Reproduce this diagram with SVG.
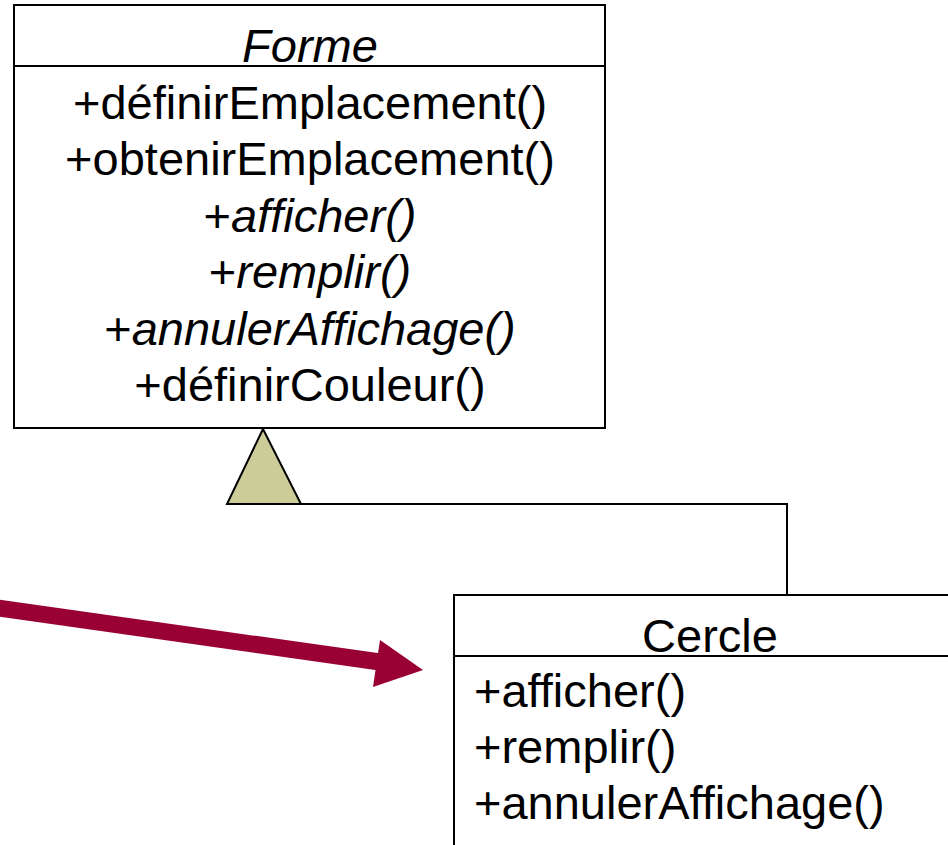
<svg xmlns="http://www.w3.org/2000/svg" width="948" height="845" viewBox="0 0 948 845">
  <style>
    .box { fill: #ffffff; stroke: #000000; stroke-width: 2; }
    .sep { stroke: #000000; stroke-width: 2; }
    .t { font-family: "Liberation Sans", Arial, sans-serif; font-size: 47px; fill: #000000; }
    .c { text-anchor: middle; }
    .i { font-style: italic; }
    .link { fill: none; stroke: #000000; stroke-width: 2; }
  </style>
  <rect width="948" height="845" fill="#ffffff"/>

  <!-- abstract class -->
  <g id="forme">
    <rect class="box" x="14" y="5" width="591" height="423"/>
    <line class="sep" x1="14" y1="66" x2="605" y2="66"/>
    <text class="t c i" x="310" y="62">Forme</text>
    <text class="t c" x="310" y="119">+définirEmplacement()</text>
    <text class="t c" x="310" y="175">+obtenirEmplacement()</text>
    <text class="t c" x="310" y="232">+<tspan class="i">afficher()</tspan></text>
    <text class="t c" x="310" y="288">+<tspan class="i">remplir()</tspan></text>
    <text class="t c" x="310" y="345">+<tspan class="i">annulerAffichage()</tspan></text>
    <text class="t c" x="310" y="401">+définirCouleur()</text>
  </g>

  <!-- concrete subclass -->
  <g id="cercle">
    <rect class="box" x="454" y="595" width="510" height="270"/>
    <line class="sep" x1="454" y1="656" x2="948" y2="656"/>
    <text class="t c" x="710" y="652">Cercle</text>
    <text class="t" x="474" y="707">+afficher()</text>
    <text class="t" x="474" y="763">+remplir()</text>
    <text class="t" x="474" y="819">+annulerAffichage()</text>
  </g>

  <g id="connectors">
    <!-- generalization -->
    <polyline class="link" points="301,504 787,504 787,595"/>
    <polygon points="263,429 227,504 301,504" fill="#cccc99" stroke="#000000" stroke-width="2" stroke-linejoin="miter"/>
    <!-- pointer -->
    <line x1="-2" y1="608" x2="380" y2="662" stroke="#990033" stroke-width="17"/>
    <polygon points="423,670 380,640 373,687" fill="#990033"/>
  </g>
</svg>
